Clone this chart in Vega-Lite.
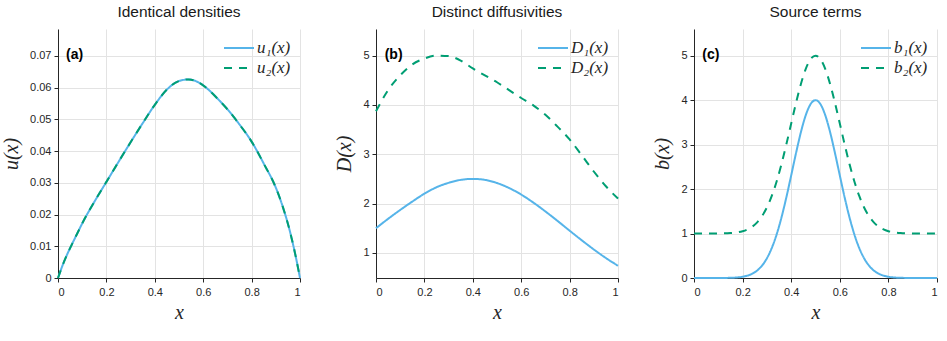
{
  "$schema": "https://vega.github.io/schema/vega-lite/v6.json",
  "background": "white",
  "padding": {"left": 1, "top": 4, "right": 4, "bottom": 4},
  "bounds": "flush",
  "spacing": 76,
  "config": {
    "view": {"stroke": null},
    "font": "Liberation Sans",
    "axis": {
      "domainColor": "#262626",
      "domainWidth": 1,
      "tickColor": "#262626",
      "tickSize": 4,
      "labelColor": "#262626",
      "labelFont": "Liberation Sans",
      "labelFontSize": 11,
      "labelOverlap": false,
      "gridColor": "#e3e3e3",
      "gridWidth": 1,
      "titleFont": "Liberation Serif",
      "titleFontStyle": "italic",
      "titleFontWeight": "normal",
      "titleFontSize": 20,
      "titleColor": "#262626"
    },
    "axisX": {"labelPadding": 4, "titlePadding": 5},
    "axisY": {"labelPadding": 3, "titlePadding": 8},
    "title": {"font": "Liberation Sans", "fontSize": 15.5, "fontWeight": "normal", "color": "#1a1a1a", "frame": "group", "offset": 9},
    "legend": {
      "orient": "top-right",
      "offset": 9,
      "padding": 0,
      "symbolType": "stroke",
      "symbolSize": 900,
      "symbolStrokeWidth": 2,
      "labelFont": "Liberation Serif",
      "labelFontStyle": "italic",
      "labelFontSize": 17,
      "labelColor": "#262626",
      "labelOffset": 2,
      "clipHeight": 20,
      "rowPadding": 0
    }
  },
  "datasets": {
    "densities": [
      {"x": 0, "value": 0, "curve": "u₁(x)"},
      {"x": 0.02, "value": 0.0042, "curve": "u₁(x)"},
      {"x": 0.04, "value": 0.0078, "curve": "u₁(x)"},
      {"x": 0.06, "value": 0.011, "curve": "u₁(x)"},
      {"x": 0.08, "value": 0.0141, "curve": "u₁(x)"},
      {"x": 0.1, "value": 0.0172, "curve": "u₁(x)"},
      {"x": 0.15, "value": 0.024, "curve": "u₁(x)"},
      {"x": 0.2, "value": 0.0303, "curve": "u₁(x)"},
      {"x": 0.25, "value": 0.0366, "curve": "u₁(x)"},
      {"x": 0.3, "value": 0.0428, "curve": "u₁(x)"},
      {"x": 0.35, "value": 0.0488, "curve": "u₁(x)"},
      {"x": 0.4, "value": 0.0546, "curve": "u₁(x)"},
      {"x": 0.45, "value": 0.0594, "curve": "u₁(x)"},
      {"x": 0.5, "value": 0.0621, "curve": "u₁(x)"},
      {"x": 0.54, "value": 0.0626, "curve": "u₁(x)"},
      {"x": 0.58, "value": 0.0617, "curve": "u₁(x)"},
      {"x": 0.62, "value": 0.0595, "curve": "u₁(x)"},
      {"x": 0.66, "value": 0.0565, "curve": "u₁(x)"},
      {"x": 0.7, "value": 0.0532, "curve": "u₁(x)"},
      {"x": 0.75, "value": 0.0484, "curve": "u₁(x)"},
      {"x": 0.8, "value": 0.043, "curve": "u₁(x)"},
      {"x": 0.85, "value": 0.0361, "curve": "u₁(x)"},
      {"x": 0.9, "value": 0.0285, "curve": "u₁(x)"},
      {"x": 0.93, "value": 0.0222, "curve": "u₁(x)"},
      {"x": 0.96, "value": 0.0142, "curve": "u₁(x)"},
      {"x": 0.98, "value": 0.0076, "curve": "u₁(x)"},
      {"x": 1, "value": 0, "curve": "u₁(x)"},
      {"x": 0, "value": 0, "curve": "u₂(x)"},
      {"x": 0.02, "value": 0.0042, "curve": "u₂(x)"},
      {"x": 0.04, "value": 0.0078, "curve": "u₂(x)"},
      {"x": 0.06, "value": 0.011, "curve": "u₂(x)"},
      {"x": 0.08, "value": 0.0141, "curve": "u₂(x)"},
      {"x": 0.1, "value": 0.0172, "curve": "u₂(x)"},
      {"x": 0.15, "value": 0.024, "curve": "u₂(x)"},
      {"x": 0.2, "value": 0.0303, "curve": "u₂(x)"},
      {"x": 0.25, "value": 0.0366, "curve": "u₂(x)"},
      {"x": 0.3, "value": 0.0428, "curve": "u₂(x)"},
      {"x": 0.35, "value": 0.0488, "curve": "u₂(x)"},
      {"x": 0.4, "value": 0.0546, "curve": "u₂(x)"},
      {"x": 0.45, "value": 0.0594, "curve": "u₂(x)"},
      {"x": 0.5, "value": 0.0621, "curve": "u₂(x)"},
      {"x": 0.54, "value": 0.0626, "curve": "u₂(x)"},
      {"x": 0.58, "value": 0.0617, "curve": "u₂(x)"},
      {"x": 0.62, "value": 0.0595, "curve": "u₂(x)"},
      {"x": 0.66, "value": 0.0565, "curve": "u₂(x)"},
      {"x": 0.7, "value": 0.0532, "curve": "u₂(x)"},
      {"x": 0.75, "value": 0.0484, "curve": "u₂(x)"},
      {"x": 0.8, "value": 0.043, "curve": "u₂(x)"},
      {"x": 0.85, "value": 0.0361, "curve": "u₂(x)"},
      {"x": 0.9, "value": 0.0285, "curve": "u₂(x)"},
      {"x": 0.93, "value": 0.0222, "curve": "u₂(x)"},
      {"x": 0.96, "value": 0.0142, "curve": "u₂(x)"},
      {"x": 0.98, "value": 0.0076, "curve": "u₂(x)"},
      {"x": 1, "value": 0, "curve": "u₂(x)"}
    ],
    "diffusivities": [
      {"x": 0, "value": 1.5, "curve": "D₁(x)"},
      {"x": 0.05, "value": 1.69, "curve": "D₁(x)"},
      {"x": 0.1, "value": 1.87, "curve": "D₁(x)"},
      {"x": 0.15, "value": 2.04, "curve": "D₁(x)"},
      {"x": 0.2, "value": 2.2, "curve": "D₁(x)"},
      {"x": 0.25, "value": 2.33, "curve": "D₁(x)"},
      {"x": 0.3, "value": 2.42, "curve": "D₁(x)"},
      {"x": 0.35, "value": 2.48, "curve": "D₁(x)"},
      {"x": 0.4, "value": 2.5, "curve": "D₁(x)"},
      {"x": 0.45, "value": 2.48, "curve": "D₁(x)"},
      {"x": 0.5, "value": 2.416, "curve": "D₁(x)"},
      {"x": 0.55, "value": 2.315, "curve": "D₁(x)"},
      {"x": 0.6, "value": 2.182, "curve": "D₁(x)"},
      {"x": 0.65, "value": 2.02, "curve": "D₁(x)"},
      {"x": 0.7, "value": 1.84, "curve": "D₁(x)"},
      {"x": 0.75, "value": 1.648, "curve": "D₁(x)"},
      {"x": 0.8, "value": 1.45, "curve": "D₁(x)"},
      {"x": 0.85, "value": 1.256, "curve": "D₁(x)"},
      {"x": 0.9, "value": 1.069, "curve": "D₁(x)"},
      {"x": 0.95, "value": 0.895, "curve": "D₁(x)"},
      {"x": 1, "value": 0.738, "curve": "D₁(x)"},
      {"x": 0, "value": 3.87, "curve": "D₂(x)"},
      {"x": 0.05, "value": 4.3, "curve": "D₂(x)"},
      {"x": 0.1, "value": 4.6, "curve": "D₂(x)"},
      {"x": 0.15, "value": 4.82, "curve": "D₂(x)"},
      {"x": 0.2, "value": 4.94, "curve": "D₂(x)"},
      {"x": 0.25, "value": 5, "curve": "D₂(x)"},
      {"x": 0.3, "value": 4.99, "curve": "D₂(x)"},
      {"x": 0.35, "value": 4.9, "curve": "D₂(x)"},
      {"x": 0.4, "value": 4.74, "curve": "D₂(x)"},
      {"x": 0.45, "value": 4.6, "curve": "D₂(x)"},
      {"x": 0.5, "value": 4.46, "curve": "D₂(x)"},
      {"x": 0.55, "value": 4.3, "curve": "D₂(x)"},
      {"x": 0.6, "value": 4.14, "curve": "D₂(x)"},
      {"x": 0.65, "value": 3.99, "curve": "D₂(x)"},
      {"x": 0.7, "value": 3.8, "curve": "D₂(x)"},
      {"x": 0.75, "value": 3.56, "curve": "D₂(x)"},
      {"x": 0.8, "value": 3.3, "curve": "D₂(x)"},
      {"x": 0.85, "value": 2.98, "curve": "D₂(x)"},
      {"x": 0.9, "value": 2.65, "curve": "D₂(x)"},
      {"x": 0.95, "value": 2.35, "curve": "D₂(x)"},
      {"x": 1, "value": 2.1, "curve": "D₂(x)"}
    ],
    "sources": [
      {"x": 0, "value": 0, "curve": "b₁(x)"},
      {"x": 0.05, "value": 0.0001, "curve": "b₁(x)"},
      {"x": 0.1, "value": 0.0006, "curve": "b₁(x)"},
      {"x": 0.15, "value": 0.0047, "curve": "b₁(x)"},
      {"x": 0.2, "value": 0.0283, "curve": "b₁(x)"},
      {"x": 0.22, "value": 0.0536, "curve": "b₁(x)"},
      {"x": 0.24, "value": 0.0971, "curve": "b₁(x)"},
      {"x": 0.26, "value": 0.1684, "curve": "b₁(x)"},
      {"x": 0.28, "value": 0.2792, "curve": "b₁(x)"},
      {"x": 0.3, "value": 0.4432, "curve": "b₁(x)"},
      {"x": 0.32, "value": 0.6733, "curve": "b₁(x)"},
      {"x": 0.34, "value": 0.9785, "curve": "b₁(x)"},
      {"x": 0.36, "value": 1.361, "curve": "b₁(x)"},
      {"x": 0.38, "value": 1.812, "curve": "b₁(x)"},
      {"x": 0.4, "value": 2.308, "curve": "b₁(x)"},
      {"x": 0.42, "value": 2.813, "curve": "b₁(x)"},
      {"x": 0.44, "value": 3.282, "curve": "b₁(x)"},
      {"x": 0.46, "value": 3.663, "curve": "b₁(x)"},
      {"x": 0.48, "value": 3.913, "curve": "b₁(x)"},
      {"x": 0.5, "value": 4, "curve": "b₁(x)"},
      {"x": 0.52, "value": 3.913, "curve": "b₁(x)"},
      {"x": 0.54, "value": 3.663, "curve": "b₁(x)"},
      {"x": 0.56, "value": 3.282, "curve": "b₁(x)"},
      {"x": 0.58, "value": 2.813, "curve": "b₁(x)"},
      {"x": 0.6, "value": 2.308, "curve": "b₁(x)"},
      {"x": 0.62, "value": 1.812, "curve": "b₁(x)"},
      {"x": 0.64, "value": 1.361, "curve": "b₁(x)"},
      {"x": 0.66, "value": 0.9785, "curve": "b₁(x)"},
      {"x": 0.68, "value": 0.6733, "curve": "b₁(x)"},
      {"x": 0.7, "value": 0.4432, "curve": "b₁(x)"},
      {"x": 0.72, "value": 0.2792, "curve": "b₁(x)"},
      {"x": 0.74, "value": 0.1684, "curve": "b₁(x)"},
      {"x": 0.76, "value": 0.0971, "curve": "b₁(x)"},
      {"x": 0.78, "value": 0.0536, "curve": "b₁(x)"},
      {"x": 0.8, "value": 0.0283, "curve": "b₁(x)"},
      {"x": 0.85, "value": 0.0047, "curve": "b₁(x)"},
      {"x": 0.9, "value": 0.0006, "curve": "b₁(x)"},
      {"x": 0.95, "value": 0.0001, "curve": "b₁(x)"},
      {"x": 1, "value": 0, "curve": "b₁(x)"},
      {"x": 0, "value": 1, "curve": "b₂(x)"},
      {"x": 0.05, "value": 1.0002, "curve": "b₂(x)"},
      {"x": 0.1, "value": 1.0018, "curve": "b₂(x)"},
      {"x": 0.15, "value": 1.0112, "curve": "b₂(x)"},
      {"x": 0.2, "value": 1.0532, "curve": "b₂(x)"},
      {"x": 0.22, "value": 1.0928, "curve": "b₂(x)"},
      {"x": 0.24, "value": 1.1559, "curve": "b₂(x)"},
      {"x": 0.26, "value": 1.252, "curve": "b₂(x)"},
      {"x": 0.28, "value": 1.392, "curve": "b₂(x)"},
      {"x": 0.3, "value": 1.5865, "curve": "b₂(x)"},
      {"x": 0.32, "value": 1.845, "curve": "b₂(x)"},
      {"x": 0.34, "value": 2.171, "curve": "b₂(x)"},
      {"x": 0.36, "value": 2.561, "curve": "b₂(x)"},
      {"x": 0.38, "value": 3.004, "curve": "b₂(x)"},
      {"x": 0.4, "value": 3.475, "curve": "b₂(x)"},
      {"x": 0.42, "value": 3.942, "curve": "b₂(x)"},
      {"x": 0.44, "value": 4.365, "curve": "b₂(x)"},
      {"x": 0.46, "value": 4.704, "curve": "b₂(x)"},
      {"x": 0.48, "value": 4.924, "curve": "b₂(x)"},
      {"x": 0.5, "value": 5, "curve": "b₂(x)"},
      {"x": 0.52, "value": 4.924, "curve": "b₂(x)"},
      {"x": 0.54, "value": 4.704, "curve": "b₂(x)"},
      {"x": 0.56, "value": 4.365, "curve": "b₂(x)"},
      {"x": 0.58, "value": 3.942, "curve": "b₂(x)"},
      {"x": 0.6, "value": 3.475, "curve": "b₂(x)"},
      {"x": 0.62, "value": 3.004, "curve": "b₂(x)"},
      {"x": 0.64, "value": 2.561, "curve": "b₂(x)"},
      {"x": 0.66, "value": 2.171, "curve": "b₂(x)"},
      {"x": 0.68, "value": 1.845, "curve": "b₂(x)"},
      {"x": 0.7, "value": 1.5865, "curve": "b₂(x)"},
      {"x": 0.72, "value": 1.392, "curve": "b₂(x)"},
      {"x": 0.74, "value": 1.252, "curve": "b₂(x)"},
      {"x": 0.76, "value": 1.1559, "curve": "b₂(x)"},
      {"x": 0.78, "value": 1.0928, "curve": "b₂(x)"},
      {"x": 0.8, "value": 1.0532, "curve": "b₂(x)"},
      {"x": 0.85, "value": 1.0112, "curve": "b₂(x)"},
      {"x": 0.9, "value": 1.0018, "curve": "b₂(x)"},
      {"x": 0.95, "value": 1.0002, "curve": "b₂(x)"},
      {"x": 1, "value": 1, "curve": "b₂(x)"}
    ]
  },
  "resolve": {
    "scale": {"color": "independent", "strokeDash": "independent"},
    "legend": {"color": "independent", "strokeDash": "independent"}
  },
  "hconcat": [
    {
      "title": "Identical densities",
      "width": 242,
      "height": 249,
      "layer": [
        {
          "data": {"name": "densities"},
          "mark": {"type": "line", "interpolate": "monotone", "strokeWidth": 2},
          "encoding": {
            "x": {"field": "x", "type": "quantitative", "scale": {"domain": [0, 1], "nice": false},
                  "axis": {"title": "x", "values": [0, 0.2, 0.4, 0.6, 0.8, 1], "format": "~g"}},
            "y": {"field": "value", "type": "quantitative", "scale": {"domain": [0, 0.0785], "nice": false},
                  "axis": {"title": "u(x)", "values": [0, 0.01, 0.02, 0.03, 0.04, 0.05, 0.06, 0.07], "format": "~g"}},
            "color": {"field": "curve", "type": "nominal",
                      "scale": {"domain": ["u₁(x)", "u₂(x)"], "range": ["#56B4E9", "#009E73"]},
                      "legend": {"title": null}},
            "strokeDash": {"field": "curve", "type": "nominal",
                           "scale": {"domain": ["u₁(x)", "u₂(x)"], "range": [[1, 0], [8, 7]]},
                           "legend": {"title": null}}
          }
        },
        {
          "data": {"values": [{"tag": "(a)"}]},
          "mark": {"type": "text", "align": "left", "baseline": "middle", "fontSize": 14, "fontWeight": "bold", "font": "Liberation Sans", "color": "#000000"},
          "encoding": {
            "x": {"datum": 0.033, "type": "quantitative",
                  "axis": {"title": "x", "values": [0, 0.2, 0.4, 0.6, 0.8, 1], "format": "~g"}},
            "y": {"datum": 0.0703, "type": "quantitative",
                  "axis": {"title": "u(x)", "values": [0, 0.01, 0.02, 0.03, 0.04, 0.05, 0.06, 0.07], "format": "~g"}},
            "text": {"field": "tag"}
          }
        }
      ]
    },
    {
      "title": "Distinct diffusivities",
      "width": 242,
      "height": 249,
      "layer": [
        {
          "data": {"name": "diffusivities"},
          "mark": {"type": "line", "interpolate": "monotone", "strokeWidth": 2},
          "encoding": {
            "x": {"field": "x", "type": "quantitative", "scale": {"domain": [0, 1], "nice": false},
                  "axis": {"title": "x", "values": [0, 0.2, 0.4, 0.6, 0.8, 1], "format": "~g"}},
            "y": {"field": "value", "type": "quantitative", "scale": {"domain": [0.49, 5.54], "nice": false},
                  "axis": {"title": "D(x)", "values": [1, 2, 3, 4, 5], "format": "~g"}},
            "color": {"field": "curve", "type": "nominal",
                      "scale": {"domain": ["D₁(x)", "D₂(x)"], "range": ["#56B4E9", "#009E73"]},
                      "legend": {"title": null}},
            "strokeDash": {"field": "curve", "type": "nominal",
                           "scale": {"domain": ["D₁(x)", "D₂(x)"], "range": [[1, 0], [8, 7]]},
                           "legend": {"title": null}}
          }
        },
        {
          "data": {"values": [{"tag": "(b)"}]},
          "mark": {"type": "text", "align": "left", "baseline": "middle", "fontSize": 14, "fontWeight": "bold", "font": "Liberation Sans", "color": "#000000"},
          "encoding": {
            "x": {"datum": 0.036, "type": "quantitative",
                  "axis": {"title": "x", "values": [0, 0.2, 0.4, 0.6, 0.8, 1], "format": "~g"}},
            "y": {"datum": 5.02, "type": "quantitative",
                  "axis": {"title": "D(x)", "values": [1, 2, 3, 4, 5], "format": "~g"}},
            "text": {"field": "tag"}
          }
        }
      ]
    },
    {
      "title": "Source terms",
      "width": 243,
      "height": 249,
      "layer": [
        {
          "data": {"name": "sources"},
          "mark": {"type": "line", "interpolate": "monotone", "strokeWidth": 2},
          "encoding": {
            "x": {"field": "x", "type": "quantitative", "scale": {"domain": [0, 1], "nice": false},
                  "axis": {"title": "x", "values": [0, 0.2, 0.4, 0.6, 0.8, 1], "format": "~g"}},
            "y": {"field": "value", "type": "quantitative", "scale": {"domain": [0, 5.6], "nice": false},
                  "axis": {"title": "b(x)", "values": [0, 1, 2, 3, 4, 5], "format": "~g"}},
            "color": {"field": "curve", "type": "nominal",
                      "scale": {"domain": ["b₁(x)", "b₂(x)"], "range": ["#56B4E9", "#009E73"]},
                      "legend": {"title": null}},
            "strokeDash": {"field": "curve", "type": "nominal",
                           "scale": {"domain": ["b₁(x)", "b₂(x)"], "range": [[1, 0], [8, 7]]},
                           "legend": {"title": null}}
          }
        },
        {
          "data": {"values": [{"tag": "(c)"}]},
          "mark": {"type": "text", "align": "left", "baseline": "middle", "fontSize": 14, "fontWeight": "bold", "font": "Liberation Sans", "color": "#000000"},
          "encoding": {
            "x": {"datum": 0.034, "type": "quantitative",
                  "axis": {"title": "x", "values": [0, 0.2, 0.4, 0.6, 0.8, 1], "format": "~g"}},
            "y": {"datum": 5.02, "type": "quantitative",
                  "axis": {"title": "b(x)", "values": [0, 1, 2, 3, 4, 5], "format": "~g"}},
            "text": {"field": "tag"}
          }
        }
      ]
    }
  ]
}
